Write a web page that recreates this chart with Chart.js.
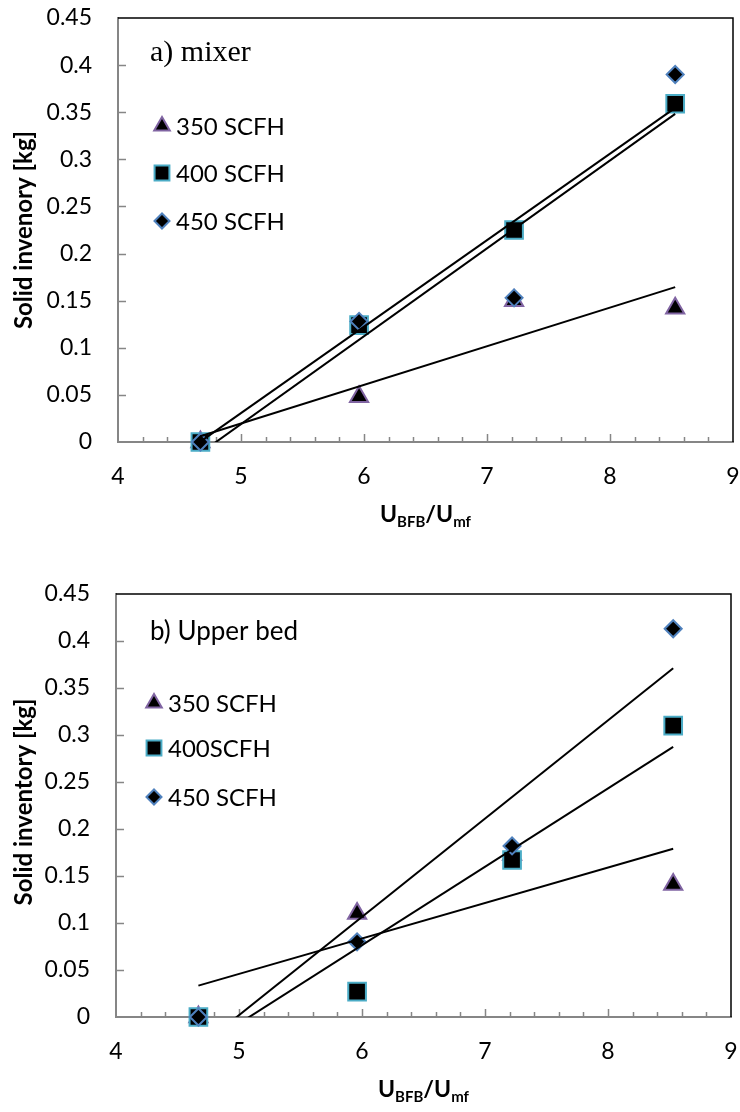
<!DOCTYPE html>
<html>
<head>
<meta charset="utf-8">
<script src="https://cdn.jsdelivr.net/npm/chart.js@4.4.1/dist/chart.umd.min.js"></script>
<style>
  html, body { margin: 0; padding: 0; background: #fff; }
  .painel { position: relative; width: 740px; height: 556px; }
</style>
</head>
<body>
<div class="painel"><canvas id="grafico-mixer" width="740" height="556"></canvas></div>
<div class="painel"><canvas id="grafico-upper" width="740" height="556"></canvas></div>
<script>
// U_BFB/U_mf
const velocidade = [4.67, 5.96, 7.22, 8.53];

// a) mixer
const mixer350 = [0, 0.048, 0.150, 0.142];
const mixer400 = [0, 0.124, 0.225, 0.359];
const mixer450 = [0, 0.128, 0.153, 0.390];

// b) upper bed
const upper350 = [0, 0.110, 0.173, 0.141];
const upper400 = [0, 0.027, 0.167, 0.310];
const upper450 = [0, 0.080, 0.182, 0.413];

const mixerLabels = ['350 SCFH', '400 SCFH', '450 SCFH'];
const upperLabels = ['350 SCFH', '400SCFH', '450 SCFH'];
const xTickLabels = ['4', '5', '6', '7', '8', '9'];
const yTickLabels = ['0', '0.05', '0.1', '0.15', '0.2', '0.25', '0.3', '0.35', '0.4', '0.45'];

const estilos = [
    { pointStyle: 'triangle', borderColor: '#8064A2', radius: 10.5, legendRadius: 9 },
    { pointStyle: 'rect', borderColor: '#4BACC6', radius: 12.5, legendRadius: 10.5 },
    { pointStyle: 'rectRot', borderColor: '#4F81BD', radius: 8.5, legendRadius: 7.5 }
];

// linha de tendencia (minimos quadrados) entre o primeiro e o ultimo x
function tendencia(xs, ys) {
    const n = xs.length;
    const mx = xs.reduce((a, b) => a + b, 0) / n;
    const my = ys.reduce((a, b) => a + b, 0) / n;
    let sxy = 0, sxx = 0;
    for (let i = 0; i < n; i++) {
        sxy += (xs[i] - mx) * (ys[i] - my);
        sxx += (xs[i] - mx) * (xs[i] - mx);
    }
    const b = sxy / sxx;
    return [xs[0], xs[n - 1]].map(x => ({ x: x, y: my + b * (x - mx) }));
}

function marcador(ctx, estilo, r, x, y) {
    ctx.fillStyle = '#000';
    ctx.strokeStyle = estilo.borderColor;
    ctx.lineWidth = 2;
    Chart.helpers.drawPoint(ctx, { pointStyle: estilo.pointStyle, radius: r, rotation: 0, borderWidth: 2 }, x, y);
}

const moldura = {
    id: 'moldura',
    beforeDatasetsDraw(chart) {
        const { ctx, chartArea: a, scales: { x, y } } = chart;
        ctx.save();
        ctx.strokeStyle = '#000';
        ctx.lineWidth = 1.5;
        ctx.beginPath();
        ctx.moveTo(a.left, a.top);
        ctx.lineTo(a.right, a.top);
        ctx.lineTo(a.right, a.bottom);
        ctx.stroke();

        ctx.strokeStyle = '#868686';
        ctx.lineWidth = 1.5;
        ctx.beginPath();
        y.ticks.forEach(t => {
            const py = Math.round(y.getPixelForValue(t.value)) + 0.5;
            if (t.value <= 0 || t.value >= y.max) return;
            ctx.moveTo(a.left, py);
            ctx.lineTo(a.left + 8, py);
        });
        const passos = Math.round((x.max - x.min) / 0.2);
        for (let i = 1; i < passos; i++) {
            const px = Math.round(x.getPixelForValue(x.min + i * 0.2)) + 0.5;
            const len = i % 5 === 0 ? 8 : 5;
            ctx.moveTo(px, a.bottom);
            ctx.lineTo(px, a.bottom - len);
        }
        ctx.stroke();
        ctx.restore();
    },
    afterDraw(chart, args, opts) {
        const { ctx, chartArea: a } = chart;
        ctx.save();
        ctx.fillStyle = '#000';

        // titulo do painel
        ctx.font = opts.tituloFonte;
        ctx.textBaseline = 'alphabetic';
        ctx.textAlign = 'left';
        ctx.fillText(opts.titulo, opts.tituloX, opts.tituloY);

        // legenda
        opts.legenda.forEach((txt, i) => {
            const ly = opts.legendaY[i];
            marcador(ctx, estilos[i], estilos[i].legendRadius, opts.legendaX, ly);
            ctx.fillStyle = '#000';
            ctx.font = '24px Lato';
            ctx.textBaseline = 'middle';
            ctx.textAlign = 'left';
            ctx.fillText(txt, opts.legendaX + 14, ly + 1);
        });

        // titulo eixo y
        ctx.save();
        ctx.translate(24, opts.yTituloCentro);
        ctx.rotate(-Math.PI / 2);
        ctx.font = 'bold 24px Lato';
        ctx.textAlign = 'center';
        ctx.textBaseline = 'middle';
        ctx.fillText(opts.yTitulo, 0, 0);
        ctx.restore();

        // titulo eixo x: U_BFB/U_mf
        const partes = [['U', 0], ['BFB', 1], ['/U', 0], ['mf', 1]];
        const grande = 'bold 23px Lato', pequeno = 'bold 15px Lato';
        let largura = 0;
        partes.forEach(p => { ctx.font = p[1] ? pequeno : grande; largura += ctx.measureText(p[0]).width; });
        let px = (a.left + a.right) / 2 - largura / 2;
        const base = a.bottom + 80;
        ctx.textAlign = 'left';
        ctx.textBaseline = 'alphabetic';
        partes.forEach(p => {
            ctx.font = p[1] ? pequeno : grande;
            ctx.fillText(p[0], px, base + (p[1] ? 5 : 0));
            px += ctx.measureText(p[0]).width;
        });
        ctx.restore();
    }
};

function criarGrafico(id, series, labels, geo, textos) {
    const datasets = [];
    series.forEach((ys, i) => {
        datasets.push({
            label: labels[i] + ' tendencia',
            data: tendencia(velocidade, ys),
            showLine: true,
            borderColor: '#000',
            borderWidth: 2,
            pointRadius: 0,
            order: 0
        });
    });
    series.forEach((ys, i) => {
        datasets.push({
            label: labels[i],
            data: velocidade.map((x, k) => ({ x: x, y: ys[k] })),
            pointStyle: estilos[i].pointStyle,
            pointRadius: estilos[i].radius,
            backgroundColor: '#000',
            borderColor: estilos[i].borderColor,
            borderWidth: 2,
            clip: false,
            order: 3 - i
        });
    });

    return new Chart(document.getElementById(id), {
        type: 'scatter',
        data: { datasets: datasets },
        plugins: [moldura],
        options: {
            responsive: false,
            animation: false,
            devicePixelRatio: 1,
            events: [],
            layout: {
                autoPadding: false,
                padding: { left: 0, top: geo.top, right: geo.right, bottom: 0 }
            },
            scales: {
                x: {
                    type: 'linear',
                    min: 4,
                    max: 9,
                    afterBuildTicks: s => { s.ticks = xTickLabels.map(v => ({ value: Number(v) })); },
                    afterFit: s => { s.height = geo.xAltura; s.paddingLeft = 0; s.paddingRight = 0; },
                    grid: { display: false, drawTicks: false },
                    border: { display: true, color: '#868686', width: 2 },
                    ticks: {
                        padding: 21,
                        color: '#000',
                        font: { family: 'Lato', size: 23 },
                        callback: (v, i) => xTickLabels[i]
                    }
                },
                y: {
                    type: 'linear',
                    min: 0,
                    max: 0.45,
                    afterBuildTicks: s => { s.ticks = yTickLabels.map(v => ({ value: Number(v) })); },
                    afterFit: s => { s.width = geo.yLargura; s.paddingTop = 0; s.paddingBottom = 0; },
                    grid: { display: false, drawTicks: false },
                    border: { display: true, color: '#868686', width: 2 },
                    ticks: {
                        padding: 26,
                        color: '#000',
                        font: { family: 'Lato', size: 23 },
                        callback: (v, i) => yTickLabels[i]
                    }
                }
            },
            plugins: {
                legend: { display: false },
                tooltip: { enabled: false },
                moldura: textos
            }
        }
    });
}

criarGrafico('grafico-mixer', [mixer350, mixer400, mixer450], mixerLabels,
    { top: 18, right: 7, xAltura: 114, yLargura: 118 },
    {
        titulo: 'a) mixer', tituloFonte: '30px "Liberation Serif"', tituloX: 150, tituloY: 61,
        legenda: mixerLabels, legendaX: 162, legendaY: [126, 173, 221],
        yTitulo: 'Solid invenory [kg]', yTituloCentro: 230
    });

criarGrafico('grafico-upper', [upper350, upper400, upper450], upperLabels,
    { top: 38, right: 9, xAltura: 95, yLargura: 116 },
    {
        titulo: 'b) Upper bed', tituloFonte: '26px Lato', tituloX: 150, tituloY: 84,
        legenda: upperLabels, legendaX: 154, legendaY: [147, 192, 241],
        yTitulo: 'Solid inventory [kg]', yTituloCentro: 246
    });
</script>
</body>
</html>
